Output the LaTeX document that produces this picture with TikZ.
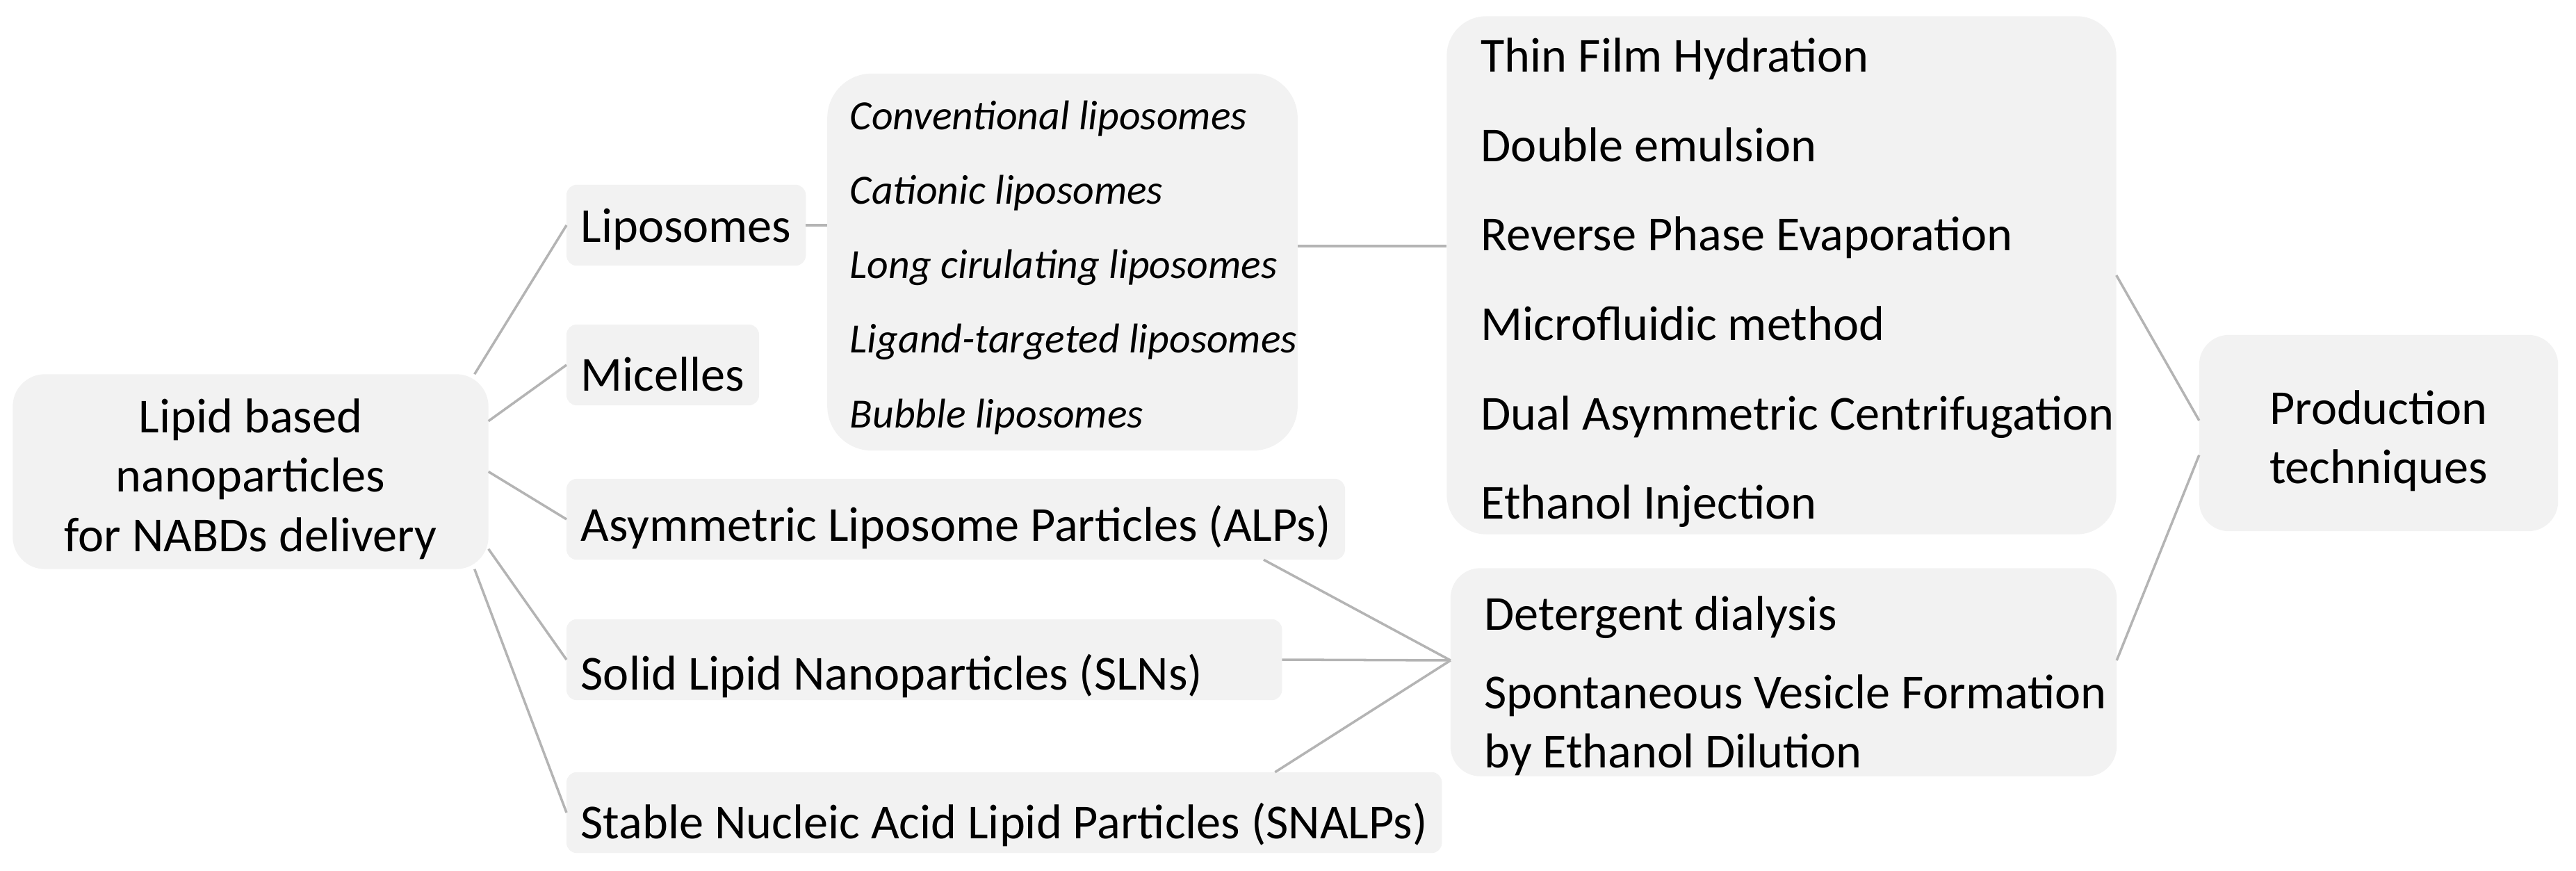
\documentclass[tikz,border=0pt]{standalone}
\usepackage{fontspec}
\setmainfont{Carlito}
\usepackage{xcolor}
\usepackage{tikz}
\usetikzlibrary{positioning,calc}
\definecolor{boxgray}{HTML}{F2F2F2}
\definecolor{linegray}{HTML}{B4B4B4}

\begin{document}
\begin{tikzpicture}[
  box/.style={rectangle, rounded corners=4pt, fill=boxgray, draw=black!5,
    minimum height=1.15cm, inner xsep=0.2cm, inner ysep=0pt, anchor=west,
    font=\fontsize{20}{24.4}\selectfont},
  sink/.style={text height=#1, text depth=0pt},
  group/.style={rectangle, rounded corners=16pt, fill=boxgray, draw=black!5,
    inner sep=0pt, align=left, font=\fontsize{20}{36.6}\selectfont},
  link/.style={draw=linegray, line width=1pt},
]
\useasboundingbox (0,0) rectangle (37.06,-12.53);

% Root
\node[group, align=center, rounded corners=13pt, minimum width=6.83cm,
  minimum height=2.79cm, font=\fontsize{20}{24.2}\selectfont] (lnp)
  at (3.605,-6.785) {\rule{0pt}{20pt}Lipid based\\nanoparticles\\for NABDs delivery};

% Carriers
\node[box, sink=13.9pt] (lipo) at (8.15,-3.24) {Liposomes};
\node[box, sink=21.6pt] (mic) at (8.15,-5.25) {Micelles};
\node[box, sink=18.2pt] (alp) at (8.15,-7.47) {Asymmetric Liposome Particles (ALPs)};
\node[box, sink=25pt] (sln) at (8.15,-9.49)
  {\makebox[9.88cm][l]{Solid Lipid Nanoparticles (SLNs)}};
\node[box, sink=21.6pt] (snalp) at (8.15,-11.69)
  {Stable Nucleic Acid Lipid Particles (SNALPs)};

% Liposome types
\node[group, minimum width=6.73cm, minimum height=5.41cm, rounded corners=18pt,
  font=\fontsize{17}{30.5}\selectfont\itshape] (sub) at (15.285,-3.77)
  {\hspace*{0.32cm}\rule{0pt}{16.2pt}Conventional liposomes\\
   \hspace*{0.32cm}Cationic liposomes\\
   \hspace*{0.32cm}Long cirulating liposomes\\
   \hspace*{0.32cm}Ligand-targeted liposomes\\
   \hspace*{0.32cm}Bubble liposomes};

% Methods
\node[group, minimum width=9.62cm, minimum height=7.44cm] (prod)
  at (25.63,-3.96)
  {\hspace*{0.46cm}\rule{0pt}{20pt}Thin Film Hydration\\
   \hspace*{0.46cm}Double emulsion\\
   \hspace*{0.46cm}Reverse Phase Evaporation\\
   \hspace*{0.46cm}Microfluidic method\\
   \hspace*{0.46cm}Dual Asymmetric Centrifugation\\
   \hspace*{0.46cm}Ethanol Injection};
\node[group, minimum width=9.57cm, minimum height=2.98cm, rounded corners=12pt,
  font=\fontsize{20}{24.2}\selectfont] (det) at (25.66,-9.67)
  {\hspace*{0.34cm}\rule{0pt}{25pt}Detergent dialysis\\[7.9pt]
   \hspace*{0.34cm}Spontaneous Vesicle Formation\\
   \hspace*{0.34cm}by Ethanol Dilution};
\node[group, align=center, minimum width=5.15cm, minimum height=2.81cm,
  rounded corners=12pt, font=\fontsize{20}{24.2}\selectfont] (tech)
  at (34.22,-6.23) {\rule{0pt}{20.4pt}Production\\techniques};

% Links
\draw[link] ([xshift=-0.2cm]lnp.north east) -- (lipo.west);
\draw[link] (lnp.12) -- (mic.west);
\draw[link] (lnp.east) -- (alp.west);
\draw[link] (lnp.-18) -- (sln.west);
\draw[link] ([xshift=-0.2cm]lnp.south east) -- (snalp.west);
\draw[link] (lipo.east) -- (lipo.east -| sub.west);
\draw[link] ([yshift=0.23cm]sub.east) -- ([yshift=0.23cm]sub.east -| prod.west);
\draw[link] ([xshift=-1.17cm]alp.south east) -- ([yshift=0.17cm]det.west);
\draw[link] (sln.east) -- ([yshift=0.17cm]det.west);
\draw[link] ([xshift=-2.4cm]snalp.north east) -- ([yshift=0.17cm]det.west);
\draw[link] (prod.east) -- (tech.176);
\draw[link] (tech.187) -- ([yshift=0.17cm]det.east);
\end{tikzpicture}
\end{document}
